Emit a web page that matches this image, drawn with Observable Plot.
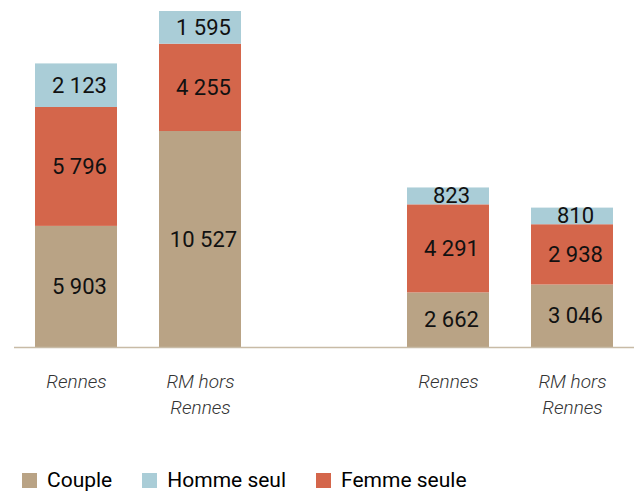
<!DOCTYPE html>
<html>
<head>
<meta charset="utf-8">
<script src="https://cdn.jsdelivr.net/npm/d3@7"></script>
<script src="https://cdn.jsdelivr.net/npm/@observablehq/plot@0.6"></script>
<style>
  html, body { margin: 0; padding: 0; background: #fff; }
  body { width: 636px; height: 494px; position: relative; overflow: hidden; font-family: Roboto, sans-serif; }
  #legend { position: absolute; left: 22px; top: 468px; height: 24px; display: flex; align-items: center; font-family: Roboto, sans-serif; font-size: 21px; font-weight: 400; color: #000; }
  #legend .item { display: flex; align-items: center; margin-right: 30px; }
  #legend .sw { width: 15px; height: 15px; margin-right: 10px; }
</style>
</head>
<body>
<div id="chart"></div>
<div id="legend"></div>
<script>
// Data
const slots = ["a", "b", "c", "d"];
const slotLabels = ["Rennes", "RM hors\nRennes", "Rennes", "RM hors\nRennes"];
const domainSlots = ["a", "b", "gap", "c", "d"];
const types = ["Couple", "Femme seule", "Homme seul"];
const legendTypes = ["Couple", "Homme seul", "Femme seule"];
const typeColors = ["#b9a385", "#d4664b", "#aacdd7"];
const couple = [5903, 10527, 2662, 3046];
const femme = [5796, 4255, 4291, 2938];
const homme = [2123, 1595, 823, 810];

const series = [couple, femme, homme];
const data = [];
slots.forEach((s, i) => {
  types.forEach((t, j) => data.push({slot: s, type: t, value: series[j][i]}));
});

const labelOf = Object.fromEntries(slots.map((s, i) => [s, slotLabels[i]]));
labelOf.gap = "";
const fmt = v => d3.format(",")(v).replace(/,/g, " ");

const chart = Plot.plot({
  width: 636,
  height: 440,
  marginTop: 11,
  marginBottom: 93,
  marginLeft: 14,
  marginRight: 2,
  style: {fontFamily: "Roboto, sans-serif", background: "#fff"},
  x: {domain: domainSlots, paddingInner: 0.34, paddingOuter: 0.17, axis: null},
  y: {axis: null, domain: [0, d3.max(slots.map((s, i) => couple[i] + femme[i] + homme[i]))]},
  color: {domain: types, range: typeColors},
  marks: [
    Plot.barY(data, Plot.stackY({x: "slot", y: "value", fill: "type", z: "type", order: types})),
    Plot.text(data, Plot.stackY({x: "slot", y: "value", z: "type", order: types, text: d => fmt(d.value), fontSize: 22, fill: "#111", dx: 3})),
    Plot.ruleY([0], {stroke: "#c8bba6", strokeWidth: 1.5}),
    Plot.axisX({tickSize: 0, tickPadding: 22, tickFormat: d => labelOf[d], fontSize: 19, fontStyle: "italic", fontWeight: 300, lineHeight: 1.37, fill: "#333", label: null})
  ]
});
document.getElementById("chart").appendChild(chart);

const legend = document.getElementById("legend");
legendTypes.forEach(t => {
  const item = document.createElement("div");
  item.className = "item";
  const sw = document.createElement("span");
  sw.className = "sw";
  sw.style.background = typeColors[types.indexOf(t)];
  const tx = document.createElement("span");
  tx.textContent = t;
  item.appendChild(sw);
  item.appendChild(tx);
  legend.appendChild(item);
});
</script>
</body>
</html>
